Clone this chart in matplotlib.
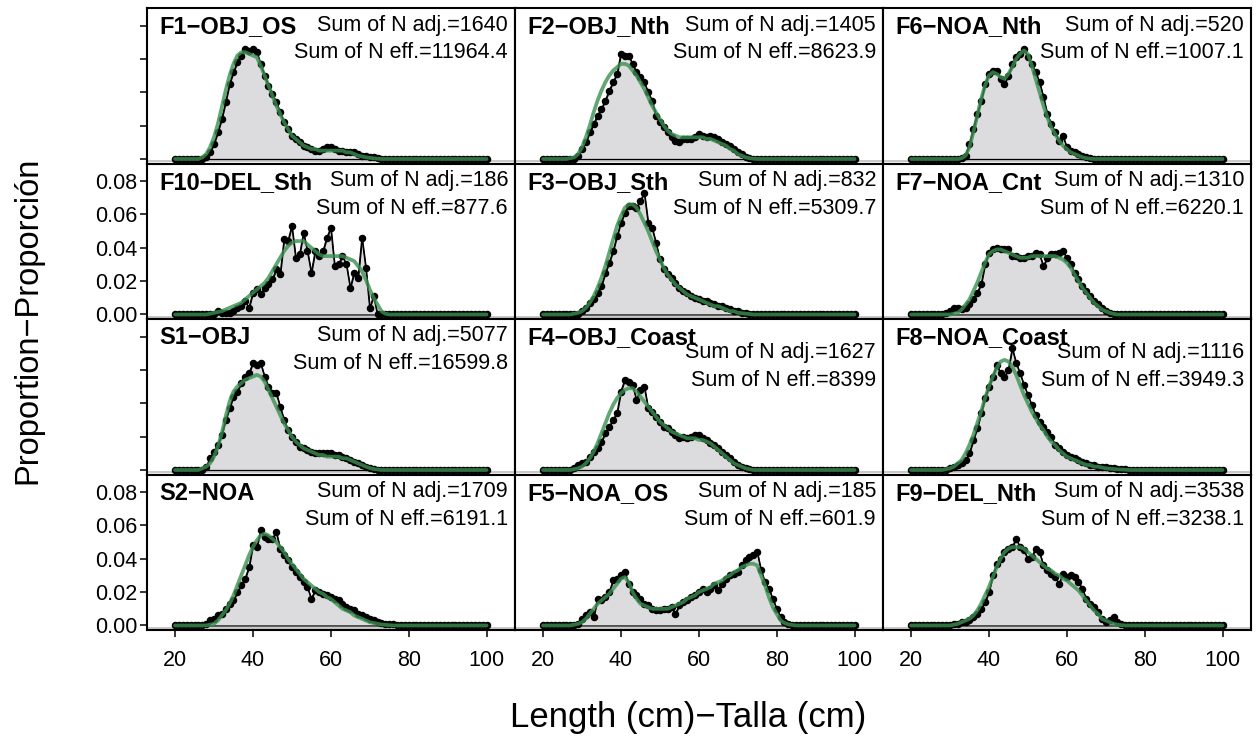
import numpy as np
import matplotlib
matplotlib.use("Agg")
import matplotlib.pyplot as plt

plt.rcParams['font.family'] = ['Liberation Sans', 'DejaVu Sans']

# ---------------- data ----------------
lengths = np.arange(20, 101)

fleets = ["F1−OBJ_OS", "F2−OBJ_Nth", "F6−NOA_Nth",
          "F10−DEL_Sth", "F3−OBJ_Sth", "F7−NOA_Cnt",
          "S1−OBJ", "F4−OBJ_Coast", "F8−NOA_Coast",
          "S2−NOA", "F5−NOA_OS", "F9−DEL_Nth"]
n_adj = [1640, 1405, 520, 186, 832, 1310, 5077, 1627, 1116, 1709, 185, 3538]
n_eff = ["11964.4", "8623.9", "1007.1", "877.6", "5309.7", "6220.1",
         "16599.8", "8399", "3949.3", "6191.1", "601.9", "3238.1"]

# observed / expected proportions, starting at length 20 (trailing zeros omitted)
obs_F1 = [0, 0, 0, 0, 0, 0, 0, 0,
          0.001, 0.004, 0.009, 0.016, 0.024, 0.034, 0.045, 0.052, 0.058, 0.062, 0.066, 0.065, 0.066, 0.064,
          0.057, 0.050, 0.044, 0.039, 0.034, 0.028, 0.022, 0.018, 0.014, 0.012, 0.010, 0.008, 0.007, 0.006,
          0.005, 0.005, 0.006, 0.007, 0.007, 0.006, 0.005, 0.005, 0.004, 0.004, 0.004, 0.003, 0.002, 0.002,
          0.001, 0.001, 0.0005]
exp_F1 = [0, 0, 0, 0, 0, 0, 0,
          0.001, 0.003, 0.007, 0.013, 0.021, 0.031, 0.041, 0.050, 0.057, 0.062, 0.064, 0.064, 0.063, 0.062,
          0.061, 0.056, 0.050, 0.044, 0.038, 0.032, 0.027, 0.022, 0.018, 0.014, 0.012, 0.010, 0.008, 0.007,
          0.006, 0.006, 0.005, 0.005, 0.005, 0.005, 0.005, 0.005, 0.005, 0.004, 0.004, 0.003, 0.002, 0.0015,
          0.001, 0.0007, 0.0004, 0.0002]

obs_F2 = [0, 0, 0, 0, 0, 0, 0, 0, 0,
          0.002, 0.006, 0.010, 0.016, 0.021, 0.026, 0.030, 0.035, 0.041, 0.046, 0.051, 0.063, 0.062, 0.062,
          0.057, 0.052, 0.049, 0.046, 0.040, 0.035, 0.026, 0.022, 0.019, 0.016, 0.013, 0.011, 0.010, 0.012,
          0.012, 0.012, 0.013, 0.015, 0.014, 0.013, 0.014, 0.013, 0.012, 0.010, 0.009, 0.008, 0.006, 0.004,
          0.003, 0.001, 0.0005]
exp_F2 = [0, 0, 0, 0, 0, 0, 0,
          0.0005, 0.001, 0.003, 0.007, 0.013, 0.020, 0.028, 0.035, 0.041, 0.046, 0.050, 0.053, 0.055, 0.057,
          0.057, 0.056, 0.053, 0.050, 0.046, 0.042, 0.037, 0.032, 0.028, 0.024, 0.020, 0.017, 0.015, 0.014,
          0.013, 0.013, 0.013, 0.013, 0.013, 0.013, 0.013, 0.012, 0.012, 0.011, 0.010, 0.009, 0.008, 0.006,
          0.005, 0.003, 0.002, 0.001, 0.0005, 0.0002]

obs_F6 = [0, 0, 0, 0, 0, 0, 0, 0, 0, 0, 0, 0, 0,
          0.0005, 0.002, 0.009, 0.018, 0.027, 0.035, 0.045, 0.051, 0.053, 0.053, 0.048, 0.045, 0.050, 0.057,
          0.061, 0.063, 0.066, 0.061, 0.057, 0.052, 0.046, 0.037, 0.027, 0.021, 0.016, 0.011, 0.014, 0.007,
          0.005, 0.004, 0.003, 0.002, 0.001, 0.0005]
exp_F6 = [0, 0, 0, 0, 0, 0, 0, 0, 0, 0, 0, 0, 0,
          0.0005, 0.002, 0.007, 0.016, 0.026, 0.036, 0.044, 0.050, 0.052, 0.051, 0.049, 0.048, 0.051, 0.055,
          0.060, 0.063, 0.065, 0.063, 0.056, 0.048, 0.040, 0.032, 0.025, 0.019, 0.015, 0.011, 0.008, 0.006,
          0.004, 0.003, 0.002, 0.001, 0.0005, 0.0002]

obs_F10 = [0, 0, 0, 0, 0, 0, 0, 0, 0, 0, 0,
           0.002, 0.001, 0.001, 0.001, 0.002, 0.004, 0.005, 0.008, 0.004, 0.013, 0.015, 0.012, 0.016, 0.018,
           0.021, 0.027, 0.024, 0.045, 0.044, 0.053, 0.034, 0.036, 0.049, 0.038, 0.025, 0.038, 0.035, 0.038,
           0.046, 0.052, 0.029, 0.030, 0.035, 0.030, 0.016, 0.025, 0.022, 0.046, 0.028, 0.004, 0.011, 0.0]
exp_F10 = [0, 0, 0, 0, 0, 0, 0, 0, 0,
           0.0005, 0.001, 0.0015, 0.002, 0.003, 0.004, 0.005, 0.006, 0.007, 0.009, 0.011, 0.013, 0.015,
           0.017, 0.019, 0.022, 0.026, 0.030, 0.034, 0.038, 0.041, 0.043, 0.044, 0.044, 0.044, 0.042, 0.040,
           0.038, 0.036, 0.035, 0.035, 0.035, 0.035, 0.035, 0.035, 0.034, 0.033, 0.032, 0.029, 0.026, 0.021,
           0.015, 0.010, 0.006, 0.002, 0.0005]

obs_F3 = [0, 0, 0, 0, 0, 0, 0, 0, 0, 0,
          0.002, 0.004, 0.007, 0.009, 0.013, 0.017, 0.025, 0.031, 0.038, 0.047, 0.055, 0.061, 0.065, 0.065,
          0.064, 0.068, 0.073, 0.055, 0.052, 0.043, 0.033, 0.027, 0.024, 0.022, 0.019, 0.016, 0.014, 0.013,
          0.011, 0.010, 0.009, 0.008, 0.008, 0.007, 0.006, 0.005, 0.005, 0.004, 0.003, 0.002, 0.002, 0.001,
          0.0008, 0.0005, 0.0003]
exp_F3 = [0, 0, 0, 0, 0, 0, 0, 0,
          0.0005, 0.001, 0.002, 0.004, 0.007, 0.011, 0.016, 0.022, 0.029, 0.037, 0.045, 0.053, 0.059, 0.064,
          0.066, 0.066, 0.064, 0.060, 0.055, 0.050, 0.044, 0.038, 0.033, 0.028, 0.024, 0.021, 0.018, 0.016,
          0.014, 0.012, 0.011, 0.010, 0.009, 0.008, 0.007, 0.006, 0.005, 0.005, 0.004, 0.003, 0.002, 0.002,
          0.001, 0.0008, 0.0005, 0.0003]

obs_F7 = [0, 0, 0, 0, 0, 0, 0, 0, 0,
          0.001, 0.002, 0.004, 0.004, 0.003, 0.004, 0.006, 0.009, 0.013, 0.018, 0.030, 0.037, 0.039, 0.040,
          0.039, 0.039, 0.039, 0.035, 0.035, 0.034, 0.034, 0.035, 0.035, 0.037, 0.036, 0.029, 0.034, 0.036,
          0.036, 0.037, 0.038, 0.034, 0.030, 0.025, 0.021, 0.017, 0.014, 0.011, 0.008, 0.006, 0.004, 0.002,
          0.001, 0.0005]
exp_F7 = [0, 0, 0, 0, 0, 0, 0, 0, 0, 0, 0,
          0.0005, 0.001, 0.003, 0.006, 0.009, 0.014, 0.019, 0.025, 0.031, 0.036, 0.038, 0.039, 0.039, 0.038,
          0.037, 0.036, 0.035, 0.034, 0.034, 0.034, 0.035, 0.035, 0.035, 0.035, 0.035, 0.035, 0.035, 0.034,
          0.033, 0.031, 0.028, 0.024, 0.020, 0.016, 0.013, 0.010, 0.007, 0.005, 0.003, 0.002, 0.001, 0.0004]

obs_S1 = [0, 0, 0, 0, 0, 0, 0, 0,
          0.002, 0.007, 0.011, 0.015, 0.021, 0.030, 0.037, 0.044, 0.047, 0.052, 0.056, 0.058, 0.064, 0.063,
          0.064, 0.056, 0.050, 0.046, 0.046, 0.038, 0.030, 0.024, 0.020, 0.017, 0.014, 0.013, 0.012, 0.011,
          0.010, 0.010, 0.010, 0.010, 0.010, 0.009, 0.009, 0.008, 0.007, 0.006, 0.005, 0.004, 0.003, 0.002,
          0.001, 0.0005]
exp_S1 = [0, 0, 0, 0, 0, 0, 0,
          0.001, 0.002, 0.004, 0.008, 0.014, 0.022, 0.032, 0.041, 0.047, 0.050, 0.052, 0.054, 0.055, 0.056,
          0.057, 0.056, 0.053, 0.048, 0.043, 0.038, 0.033, 0.028, 0.024, 0.020, 0.017, 0.015, 0.013, 0.012,
          0.011, 0.010, 0.009, 0.009, 0.008, 0.008, 0.008, 0.008, 0.007, 0.007, 0.006, 0.005, 0.004, 0.003,
          0.002, 0.0012, 0.0006, 0.0003]

obs_F4 = [0, 0, 0, 0, 0, 0, 0, 0,
          0.001, 0.003, 0.004, 0.005, 0.008, 0.011, 0.013, 0.017, 0.022, 0.026, 0.030, 0.034, 0.047, 0.054,
          0.053, 0.051, 0.042, 0.048, 0.050, 0.037, 0.035, 0.032, 0.029, 0.026, 0.025, 0.023, 0.021, 0.019,
          0.020, 0.019, 0.020, 0.021, 0.021, 0.019, 0.018, 0.016, 0.015, 0.013, 0.011, 0.009, 0.007, 0.005,
          0.003, 0.002, 0.001, 0.0005]
exp_F4 = [0, 0, 0, 0, 0, 0, 0, 0,
          0.0005, 0.001, 0.002, 0.004, 0.007, 0.011, 0.016, 0.022, 0.028, 0.034, 0.039, 0.043, 0.046, 0.048,
          0.049, 0.049, 0.047, 0.044, 0.041, 0.038, 0.035, 0.032, 0.029, 0.027, 0.025, 0.023, 0.022, 0.021,
          0.020, 0.019, 0.019, 0.019, 0.018, 0.018, 0.017, 0.016, 0.014, 0.012, 0.010, 0.008, 0.006, 0.004,
          0.003, 0.002, 0.001, 0.0005]

obs_F8 = [0, 0, 0, 0, 0, 0, 0, 0, 0, 0,
          0.001, 0.002, 0.003, 0.004, 0.006, 0.010, 0.018, 0.025, 0.034, 0.043, 0.050, 0.056, 0.063, 0.058,
          0.056, 0.060, 0.073, 0.064, 0.058, 0.051, 0.045, 0.039, 0.033, 0.029, 0.026, 0.023, 0.020, 0.015,
          0.013, 0.011, 0.009, 0.008, 0.007, 0.006, 0.005, 0.004, 0.003, 0.003, 0.002, 0.002, 0.0015, 0.001,
          0.001, 0.0008, 0.0005, 0.0003]
exp_F8 = [0, 0, 0, 0, 0, 0, 0, 0, 0,
          0.0005, 0.001, 0.002, 0.004, 0.006, 0.010, 0.015, 0.021, 0.028, 0.035, 0.043, 0.050, 0.056, 0.061,
          0.065, 0.066, 0.065, 0.062, 0.057, 0.051, 0.045, 0.040, 0.035, 0.031, 0.027, 0.024, 0.020, 0.017,
          0.015, 0.012, 0.010, 0.008, 0.007, 0.006, 0.005, 0.004, 0.003, 0.003, 0.002, 0.002, 0.0015, 0.001,
          0.0008, 0.0006, 0.0004, 0.0003, 0.0002]

obs_S2 = [0, 0, 0, 0, 0, 0, 0,
          0.0005, 0.001, 0.003, 0.004, 0.006, 0.007, 0.010, 0.013, 0.015, 0.020, 0.024, 0.028, 0.035, 0.048,
          0.047, 0.057, 0.053, 0.052, 0.052, 0.056, 0.046, 0.042, 0.039, 0.035, 0.032, 0.029, 0.026, 0.023,
          0.016, 0.021, 0.020, 0.019, 0.018, 0.017, 0.016, 0.015, 0.013, 0.011, 0.010, 0.009, 0.007, 0.006,
          0.005, 0.004, 0.003, 0.002, 0.0015, 0.001, 0.0008, 0.0006, 0.0004, 0.0003, 0.0002]
exp_S2 = [0, 0, 0, 0, 0, 0, 0, 0, 0,
          0.0005, 0.001, 0.003, 0.006, 0.009, 0.013, 0.018, 0.024, 0.030, 0.036, 0.042, 0.047, 0.051, 0.054,
          0.055, 0.054, 0.052, 0.050, 0.047, 0.044, 0.040, 0.037, 0.034, 0.031, 0.028, 0.026, 0.024, 0.022,
          0.020, 0.019, 0.017, 0.016, 0.014, 0.012, 0.010, 0.009, 0.008, 0.006, 0.005, 0.004, 0.003, 0.002,
          0.0015, 0.001, 0.0006, 0.0004, 0.0002]

obs_F5 = [0, 0, 0, 0, 0, 0, 0, 0,
          0.0005, 0.001, 0.004, 0.006, 0.008, 0.005, 0.016, 0.015, 0.017, 0.020, 0.027, 0.028, 0.030, 0.032,
          0.025, 0.020, 0.018, 0.016, 0.013, 0.012, 0.010, 0.009, 0.009, 0.010, 0.010, 0.011, 0.007, 0.012,
          0.014, 0.015, 0.017, 0.018, 0.020, 0.022, 0.020, 0.022, 0.024, 0.021, 0.025, 0.028, 0.030, 0.031,
          0.032, 0.036, 0.039, 0.041, 0.042, 0.044, 0.033, 0.026, 0.022, 0.016, 0.010, 0.005, 0.002, 0.001,
          0.0005]
exp_F5 = [0, 0, 0, 0, 0, 0, 0, 0,
          0.0005, 0.001, 0.002, 0.004, 0.007, 0.010, 0.013, 0.015, 0.017, 0.019, 0.022, 0.025, 0.028, 0.029,
          0.026, 0.020, 0.016, 0.013, 0.012, 0.011, 0.010, 0.010, 0.010, 0.010, 0.010, 0.011, 0.012, 0.013,
          0.014, 0.016, 0.017, 0.018, 0.020, 0.021, 0.022, 0.023, 0.025, 0.026, 0.027, 0.029, 0.030, 0.032,
          0.033, 0.035, 0.036, 0.037, 0.037, 0.036, 0.030, 0.024, 0.017, 0.011, 0.007, 0.003, 0.0015, 0.0007,
          0.0003]

obs_F9 = [0, 0, 0, 0, 0, 0, 0, 0, 0, 0, 0,
          0.001, 0.001, 0.002, 0.002, 0.003, 0.005, 0.007, 0.010, 0.014, 0.020, 0.030, 0.037, 0.040, 0.044,
          0.046, 0.047, 0.052, 0.047, 0.045, 0.040, 0.041, 0.046, 0.044, 0.036, 0.033, 0.031, 0.029, 0.025,
          0.031, 0.029, 0.030, 0.029, 0.026, 0.022, 0.016, 0.013, 0.011, 0.008, 0.004, 0.002, 0.003, 0.005,
          0.002, 0.001, 0.0005]
exp_F9 = [0, 0, 0, 0, 0, 0, 0, 0, 0, 0, 0,
          0.0005, 0.001, 0.002, 0.003, 0.004, 0.006, 0.009, 0.013, 0.018, 0.023, 0.029, 0.035, 0.040, 0.044,
          0.046, 0.047, 0.047, 0.047, 0.046, 0.044, 0.042, 0.040, 0.038, 0.036, 0.034, 0.033, 0.031, 0.030,
          0.028, 0.027, 0.025, 0.023, 0.021, 0.018, 0.015, 0.012, 0.009, 0.007, 0.004, 0.003, 0.002, 0.001,
          0.0005, 0.0002]

observed = [obs_F1, obs_F2, obs_F6, obs_F10, obs_F3, obs_F7,
            obs_S1, obs_F4, obs_F8, obs_S2, obs_F5, obs_F9]
expected = [exp_F1, exp_F2, exp_F6, exp_F10, exp_F3, exp_F7,
            exp_S1, exp_F4, exp_F8, exp_S2, exp_F5, exp_F9]

xticks = [20, 40, 60, 80, 100]
yticks = [0.00, 0.02, 0.04, 0.06, 0.08]


def full(v):
    a = np.asarray(v, dtype=float)
    return np.pad(a, (0, len(lengths) - len(a)))


# ---------------- figure ----------------
W, H = 1258, 737
fig, axes = plt.subplots(4, 3, figsize=(W / 100, H / 100), dpi=100)
fig.subplots_adjust(left=147 / W, right=1251 / W, top=1 - 8 / H, bottom=1 - 630 / H,
                    wspace=0, hspace=0)

row_h = (630 - 8) / 4.0
fs = 15.5
for i, ax in enumerate(axes.flat):
    r, c = divmod(i, 3)
    obs = full(observed[i])
    exp = full(expected[i])
    ax.fill_between(lengths, obs, 0, facecolor='#dcdcde', edgecolor='black',
                    linewidth=0.9, zorder=1)
    ax.axhline(-0.0014, color='#c4c4c4', lw=1.3, zorder=0.5)
    ax.plot(lengths, obs, color='black', lw=1.0, marker='o', ms=4.4, zorder=3)
    ax.plot(lengths, exp, color='#3a9050', lw=2.7, alpha=0.8, zorder=4,
            solid_capstyle='round')
    ax.set_xlim(12.8, 107.3)
    ax.set_ylim(-0.0027, 0.0905)
    ax.set_xticks(xticks)
    ax.set_yticks(yticks)
    for sp in ax.spines.values():
        sp.set_linewidth(1.5)
    ax.tick_params(direction='out', length=5, width=1.1, labelsize=fs)
    ax.tick_params(axis='x', bottom=(r == 3), labelbottom=(r == 3), pad=9.5)
    ax.tick_params(axis='y', left=(c == 0), labelleft=(c == 0 and r % 2 == 1), pad=2)
    if c == 0:
        ax.set_yticklabels([f"{t:.2f}" for t in yticks])

    # labels
    ax.text(12 / 368, 1 - 19 / row_h, fleets[i], transform=ax.transAxes,
            ha='left', va='center', fontsize=17, fontweight='bold', zorder=6)
    drop = 17 if 'Coast' in fleets[i] else 0
    ax.text(1 - 7 / 368, 1 - (17 + drop) / row_h, f"Sum of N adj.={n_adj[i]}",
            transform=ax.transAxes, ha='right', va='center', fontsize=fs, zorder=6)
    ax.text(1 - 7 / 368, 1 - (45 + drop) / row_h, f"Sum of N eff.={n_eff[i]}",
            transform=ax.transAxes, ha='right', va='center', fontsize=fs, zorder=6)

fig.text(28 / W, 1 - 320 / H, "Proportion−Proporción", rotation=90,
         ha='center', va='center', fontsize=23.5)
fig.text(688 / W, 1 - 717 / H, "Length (cm)−Talla (cm)",
         ha='center', va='center', fontsize=25)

fig.savefig("out.png", dpi=100)
